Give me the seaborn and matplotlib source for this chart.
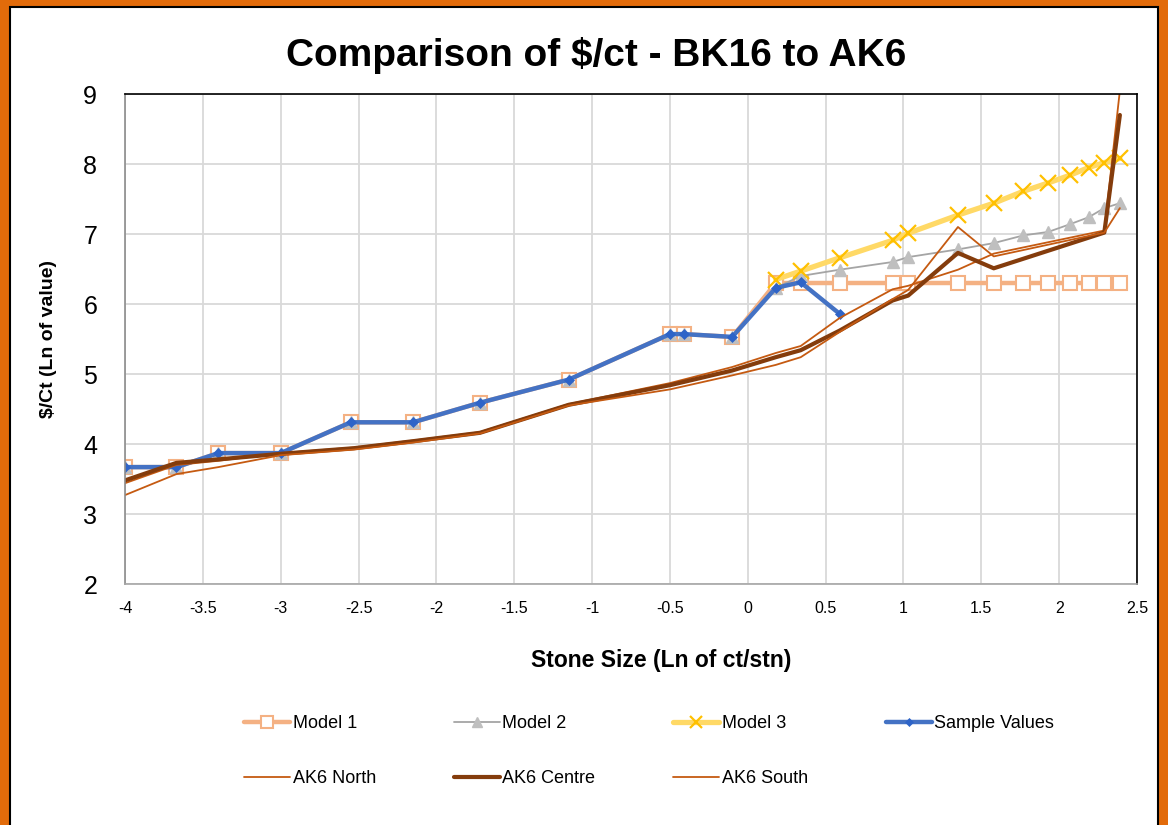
import matplotlib
matplotlib.use("Agg")
import matplotlib.pyplot as plt
from matplotlib.patches import Rectangle
import seaborn as sns

# x positions (Ln of ct/stn)
x_sample = [-4.0, -3.67, -3.4, -3.0, -2.55, -2.15, -1.72, -1.15, -0.5, -0.41, -0.1, 0.18, 0.34, 0.59]
y_sample = [3.67, 3.67, 3.87, 3.87, 4.31, 4.31, 4.59, 4.92, 5.57, 5.57, 5.53, 6.23, 6.31, 5.86]

x_model = [0.18, 0.34, 0.59, 0.93, 1.03, 1.35, 1.58, 1.77, 1.93, 2.07, 2.19, 2.29, 2.39]
model1 = [6.3, 6.3, 6.3, 6.3, 6.3, 6.3, 6.3, 6.3, 6.3, 6.3, 6.3, 6.3, 6.3]
model2 = [6.23, 6.4, 6.49, 6.6, 6.67, 6.78, 6.87, 6.98, 7.03, 7.14, 7.24, 7.37, 7.44]
model3 = [6.35, 6.47, 6.66, 6.91, 7.01, 7.27, 7.44, 7.61, 7.73, 7.84, 7.95, 8.02, 8.08]

x_ak6 = [-4.0, -3.67, -3.4, -3.0, -2.53, -2.15, -1.72, -1.15, -0.5, -0.1, 0.18, 0.34, 0.59,
         0.93, 1.03, 1.35, 1.58, 2.29, 2.39]
ak6_north = [3.44, 3.7, 3.76, 3.87, 3.95, 4.05, 4.17, 4.57, 4.87, 5.1, 5.3, 5.4, 5.8,
             6.21, 6.26, 6.49, 6.72, 7.05, 9.05]
ak6_centre = [3.48, 3.73, 3.78, 3.86, 3.94, 4.04, 4.16, 4.56, 4.84, 5.05, 5.24, 5.34, 5.62,
              6.05, 6.12, 6.73, 6.51, 7.02, 8.7]
ak6_south = [3.27, 3.57, 3.67, 3.84, 3.92, 4.02, 4.15, 4.55, 4.78, 4.98, 5.13, 5.24, 5.6,
             6.07, 6.2, 7.1, 6.68, 7.02, 7.37]

# Model 1 / Model 2 follow the sample values on the left part
x_m1 = x_sample[:11] + x_model
y_m1 = y_sample[:11] + model1
x_m2 = x_sample[:11] + x_model
y_m2 = y_sample[:11] + model2

sns.set_style("white")
plt.rcParams["font.family"] = ["Liberation Sans", "DejaVu Sans"]
plt.rcParams["text.color"] = "black"
plt.rcParams["xtick.color"] = "black"
plt.rcParams["ytick.color"] = "black"
plt.rcParams["axes.labelcolor"] = "black"

fig = plt.figure(figsize=(11.68, 8.25), dpi=100)
fig.patch.set_facecolor("#E26B0A")
fig.patches.append(Rectangle((10 / 1168, -0.01), 1148 / 1168, 1.01 - 7 / 825,
                             transform=fig.transFigure, facecolor="white",
                             edgecolor="black", lw=1.5, zorder=-5))

ax = fig.add_axes([125 / 1168, 1 - 584 / 825, 1012 / 1168, 490 / 825])
ax.set_facecolor("white")

sns.lineplot(x=x_m1, y=y_m1, ax=ax, color="#F4B183", lw=3.2, marker="s", ms=10,
             mfc="white", mec="#F4B183", mew=1.5, sort=False)
sns.lineplot(x=x_m2, y=y_m2, ax=ax, color="#A5A5A5", lw=1.3, marker="^", ms=9,
             mfc="#BFBFBF", mec="#BFBFBF", mew=1, sort=False)
sns.lineplot(x=x_model, y=model3, ax=ax, color="#FFD966", lw=3.8, marker="x", ms=11,
             mec="#FFC000", mew=1.6, sort=False)
sns.lineplot(x=x_sample, y=y_sample, ax=ax, color="#4472C4", lw=3.2, marker="D", ms=5,
             mfc="#2E64C8", mec="#2E64C8", mew=0.5, sort=False)
sns.lineplot(x=x_ak6, y=ak6_north, ax=ax, color="#C55A11", lw=1.3, sort=False)
sns.lineplot(x=x_ak6, y=ak6_centre, ax=ax, color="#843C0C", lw=3.0, sort=False)
sns.lineplot(x=x_ak6, y=ak6_south, ax=ax, color="#C55A11", lw=1.3, sort=False)

lines = ax.get_lines()
names = ["Model 1", "Model 2", "Model 3", "Sample Values", "AK6 North", "AK6 Centre", "AK6 South"]
order = [0, 4, 1, 5, 2, 6, 3]
ax.legend([lines[i] for i in order], [names[i] for i in order], ncol=4, frameon=False,
          loc="center left", bbox_to_anchor=(244 / 1168, 1 - 751 / 825),
          bbox_transform=fig.transFigure, fontsize=13, handlelength=2.55,
          handletextpad=0.15, columnspacing=4.3, labelspacing=2.1, borderpad=0,
          borderaxespad=0, markerscale=0.8)

ax.set_xlim(-4, 2.5)
ax.set_ylim(2, 9)
ax.set_xticks([-4, -3.5, -3, -2.5, -2, -1.5, -1, -0.5, 0, 0.5, 1, 1.5, 2, 2.5])
ax.set_xticklabels(["-4", "-3.5", "-3", "-2.5", "-2", "-1.5", "-1", "-0.5", "0", "0.5",
                    "1", "1.5", "2", "2.5"])
ax.set_yticks(range(2, 10))
ax.tick_params(axis="x", labelsize=11.5, length=0, pad=12)
ax.tick_params(axis="y", labelsize=18, length=0, pad=20)
ax.grid(True, color="#D9D9D9", lw=1.3)
ax.set_axisbelow(True)
for side in ["top", "right"]:
    ax.spines[side].set_color("black")
    ax.spines[side].set_linewidth(1.2)
ax.spines["left"].set_color("#8C8C8C")
ax.spines["bottom"].set_color("#A6A6A6")
ax.spines["left"].set_linewidth(1.2)
ax.spines["bottom"].set_linewidth(1.2)

ax.set_xlabel("Stone Size (Ln of ct/stn)", fontsize=16.5, fontweight="bold")
ax.xaxis.set_label_coords(0.53, -0.132)
ax.set_ylabel("\\$/Ct (Ln of value)", fontsize=14, fontweight="bold")
ax.yaxis.set_label_coords(-0.067, 0.5)

fig.text(596 / 1168, 1 - 55 / 825, "Comparison of \\$/ct - BK16 to AK6", fontsize=28,
         fontweight="bold", ha="center", va="center", color="black")

fig.savefig("out.png", dpi=100, facecolor=fig.get_facecolor())
